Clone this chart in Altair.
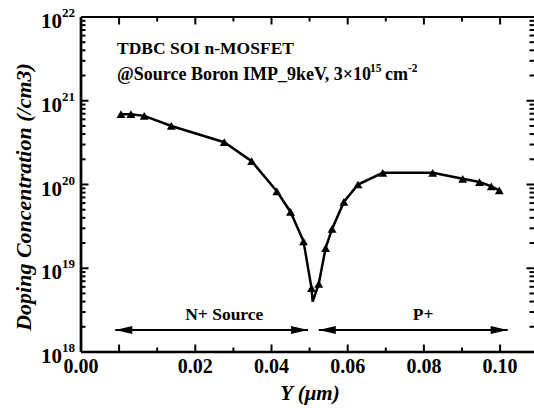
import altair as alt
import pandas as pd

# ---- data ----
y_um = [0.0005, 0.0031, 0.0066, 0.0137, 0.0276, 0.0348, 0.0414, 0.0450, 0.0484,
        0.0505, 0.0508, 0.0524, 0.0542, 0.0559, 0.0590, 0.0627, 0.0692, 0.0823,
        0.0902, 0.0946, 0.0977, 0.0998]
conc = [6.9e20, 6.9e20, 6.6e20, 5.0e20, 3.2e20, 1.9e20, 8.3e19, 4.7e19, 2.1e19,
        5.8e18, 4.0e18, 6.5e18, 1.74e19, 2.95e19, 6.2e19, 1.0e20, 1.38e20, 1.38e20,
        1.17e20, 1.07e20, 9.5e19, 8.5e19]
marker = [True] * 10 + [False] + [True] * 11

x_label_pos = [-0.01, 0.02, 0.04, 0.06, 0.08, 0.10]
x_label_text = ["0.00", "0.02", "0.04", "0.06", "0.08", "0.10"]
x_major = [0.0, 0.02, 0.04, 0.06, 0.08, 0.10]
x_minor = [0.01, 0.03, 0.05, 0.07, 0.09]
y_decades = [18, 19, 20, 21, 22]
y_major = [1e19, 1e20, 1e21]
y_minor = [k * 10.0 ** d for d in (18, 19, 20, 21) for k in range(2, 10)]

regions = ["N+ Source", "P+"]
region_x = [0.0276, 0.0798]
region_y = [2.41e18, 2.41e18]
arrow_x1 = [-0.001, 0.0524]
arrow_x2 = [0.0496, 0.102]
arrow_y = [1.83e18, 1.83e18]

W, H = 453, 335
FONT = "Liberation Serif"

df = pd.DataFrame({"x": y_um, "c": conc, "m": marker, "i": range(len(y_um))})

xscale = alt.Scale(domain=[-0.01, 0.1089], nice=False, zero=False)
yscale = alt.Scale(type="log", domain=[1e18, 1e22], nice=False)

X = lambda f: alt.X(f"{f}:Q", scale=xscale, axis=None)
Y = lambda f: alt.Y(f"{f}:Q", scale=yscale, axis=None)

line = alt.Chart(df).mark_line(color="black", strokeWidth=2.5).encode(
    x=X("x"), y=Y("c"), order="i:Q"
)
pts = alt.Chart(df).transform_filter("datum.m").mark_point(
    shape="triangle-up", filled=True, size=80, color="black", opacity=1
).encode(x=X("x"), y=Y("c"))

dummy = pd.DataFrame({"d": [0]})
spines = [
    alt.Chart(dummy).mark_rule(color="black", strokeWidth=2.7).encode(
        x=alt.value(0), y=alt.value(0), y2=alt.value(H)),
    alt.Chart(dummy).mark_rule(color="black", strokeWidth=2.7).encode(
        x=alt.value(0), x2=alt.value(W), y=alt.value(H)),
    alt.Chart(dummy).mark_rule(color="black", strokeWidth=2.2).encode(
        x=alt.value(0), x2=alt.value(W), y=alt.value(0)),
]

ticks = []
for vals, ln in ((x_major, 7.5), (x_minor, 4.5)):
    d = pd.DataFrame({"x": vals})
    ticks.append(alt.Chart(d).mark_rule(color="black", strokeWidth=2).encode(
        x=X("x"), y=alt.value(H), y2=alt.value(H - ln)))
    ticks.append(alt.Chart(d).mark_rule(color="black", strokeWidth=2).encode(
        x=X("x"), y=alt.value(0), y2=alt.value(ln)))
for vals, ln in ((y_major, 7.5), (y_minor, 4.5)):
    d = pd.DataFrame({"y": vals})
    ticks.append(alt.Chart(d).mark_rule(color="black", strokeWidth=2).encode(
        y=Y("y"), x=alt.value(0), x2=alt.value(ln)))
    ticks.append(alt.Chart(d).mark_rule(color="black", strokeWidth=2).encode(
        y=Y("y"), x=alt.value(W), x2=alt.value(W - ln)))

# x tick labels
xlab = pd.DataFrame({"x": x_label_pos, "t": x_label_text})
xlabels = alt.Chart(xlab).mark_text(
    font=FONT, fontWeight="bold", fontSize=20, align="center", baseline="alphabetic",
    color="black").encode(x=X("x"), y=alt.value(H + 21), text="t:N")

# y tick labels 10^n
ylab = pd.DataFrame({"y": [10.0 ** d for d in y_decades], "e": [str(d) for d in y_decades]})
ten = alt.Chart(ylab).mark_text(
    font=FONT, fontWeight="bold", fontSize=21, align="right", baseline="alphabetic",
    dy=11, color="black").encode(y=Y("y"), x=alt.value(-19), text=alt.value("10"))
sup = alt.Chart(ylab).mark_text(
    font=FONT, fontWeight="bold", fontSize=13, align="left", baseline="alphabetic",
    dy=0, color="black").encode(y=Y("y"), x=alt.value(-19), text="e:N")

ytitle = alt.Chart(dummy).mark_text(
    font=FONT, fontWeight="bold", fontStyle="italic", fontSize=22, angle=270,
    align="center", baseline="alphabetic", color="black").encode(
    x=alt.value(-50), y=alt.value(180), text=alt.value("Doping Concentration (/cm3)"))

xtitle = alt.Chart(dummy).mark_text(
    font=FONT, fontWeight="bold", fontStyle="italic", fontSize=21,
    align="center", baseline="alphabetic", color="black").encode(
    x=alt.value(229), y=alt.value(H + 48), text=alt.value("Y (μm)"))

# annotation texts
def txt(s, x, y, size=17.5, align="left"):
    return alt.Chart(dummy).mark_text(
        font=FONT, fontWeight="bold", fontSize=size, align=align,
        baseline="alphabetic", color="black").encode(
        x=alt.value(x), y=alt.value(y), text=alt.value(s))

notes = [
    txt("TDBC SOI n-MOSFET", 36, 37),
    txt("@Source Boron IMP_9keV, 3×10", 36, 63, size=18),
    txt("15", 289, 55, size=11.5),
    txt("cm", 304, 63, size=18),
    txt("-2", 327, 55, size=11.5),
]

reg = pd.DataFrame({"t": regions, "x": region_x, "y": region_y})
reg_text = alt.Chart(reg).mark_text(
    font=FONT, fontWeight="bold", fontSize=17.5, align="center", baseline="alphabetic",
    color="black").encode(x=X("x"), y=Y("y"), text="t:N")

arr = pd.DataFrame({"x1": arrow_x1, "x2": arrow_x2, "y": arrow_y})
arr_line = alt.Chart(arr).mark_rule(color="black", strokeWidth=2).encode(
    x=X("x1"), x2="x2:Q", y=Y("y"))
head_r = alt.Chart(arr).mark_point(
    shape="M0,0 L-2,-0.47 L-2,0.47 Z", filled=True, size=289, color="black", opacity=1
).encode(x=X("x2"), y=Y("y"))
head_l = alt.Chart(arr).mark_point(
    shape="M0,0 L2,-0.47 L2,0.47 Z", filled=True, size=289, color="black", opacity=1
).encode(x=X("x1"), y=Y("y"))

chart = alt.layer(
    line, pts, *spines, *ticks, xlabels, ten, sup, ytitle, xtitle, *notes,
    reg_text, arr_line, head_r, head_l
).properties(
    width=W, height=H,
    autosize=alt.AutoSizeParams(type="none"),
    padding={"left": 81, "top": 17, "right": 0, "bottom": 56},
    background="white",
).configure_view(stroke=None)

chart.save("out.html", embed_options={"renderer": "svg", "actions": False})
